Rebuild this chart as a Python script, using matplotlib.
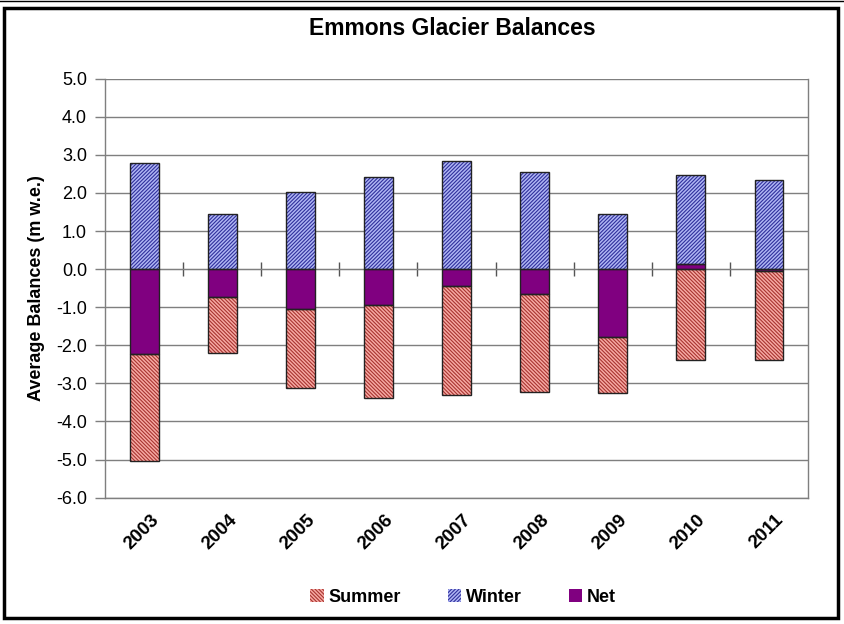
import matplotlib
matplotlib.use("Agg")
from matplotlib import pyplot as plt
from matplotlib.patches import Patch, Rectangle
from matplotlib.lines import Line2D
import matplotlib.transforms as mtrans
import numpy as np

# values (m w.e.), as drawn
years = ["2003", "2004", "2005", "2006", "2007", "2008", "2009", "2010", "2011"]
winter = [2.79, 1.45, 2.03, 2.42, 2.83, 2.55, 1.45, 2.34, 2.34]
net = [-2.22, -0.73, -1.06, -0.94, -0.44, -0.66, -1.79, 0.13, -0.04]
summer = [-2.82, -1.47, -2.07, -2.45, -2.87, -2.58, -1.47, -2.38, -2.34]

plt.rcParams["font.family"] = ["Liberation Sans", "DejaVu Sans"]
plt.rcParams["hatch.linewidth"] = 0.8

summer_face, summer_hatch = "#F7AAA4", "#A83430"
winter_face, winter_hatch = "#B0B6F4", "#30309C"
net_color = "#800080"
s_hatch = "\\" * 9
w_hatch = "/" * 9

fig = plt.figure(figsize=(8.45, 6.24), dpi=100)
ax = fig.add_axes([0.1243, 0.2026, 0.8320, 0.6712])

# category axis crossing at zero (set first: moving a spine resets its ticks)
ax.spines["top"].set_position(("data", 0))
ax.spines["top"].set_color("#7f7f7f")

x = np.arange(len(years))
w = 0.37
net = np.array(net)
winter_base = np.maximum(net, 0)
summer_base = np.minimum(net, 0)

# hatched layers first (edge = hatch colour), then black outlines on top
ax.bar(x, summer, w, bottom=summer_base, color=summer_face, hatch=s_hatch,
       edgecolor=summer_hatch, linewidth=0, zorder=3)
ax.bar(x, winter, w, bottom=winter_base, color=winter_face, hatch=w_hatch,
       edgecolor=winter_hatch, linewidth=0, zorder=3)
ax.bar(x, net, w, color=net_color, linewidth=0, zorder=4)
for vals, base in [(summer, summer_base), (winter, winter_base), (net, 0)]:
    ax.bar(x, vals, w, bottom=base, fill=False, edgecolor="#222222", linewidth=1.0, zorder=5)

ax.set_xlim(-0.5, len(years) - 0.5)
ax.set_ylim(-6, 5)
yt = np.arange(-6, 5.1, 1)
ax.set_yticks(yt)
ax.set_yticklabels([f"{v:.1f}" for v in yt], fontsize=13)
ax.yaxis.grid(True, color="#7f7f7f", linewidth=1.0, zorder=0)
ax.tick_params(axis="y", direction="out", length=7, color="#7f7f7f", width=1, pad=6)

# ticks between categories on the zero line
ax.xaxis.set_ticks(x[:-1] + 0.5, minor=True)
ax.tick_params(axis="x", which="minor", top=True, bottom=False, direction="inout",
               length=10, color="#555555", width=1)

ax.set_xticks(x)
ax.set_xticklabels(years, rotation=45, ha="right", va="top", rotation_mode="anchor",
                   fontsize=13.5, fontweight="bold")
ax.tick_params(axis="x", which="major", length=0, pad=10, top=False, bottom=True)
offset = mtrans.ScaledTranslation(6 / 100, 0, fig.dpi_scale_trans)
for lab in ax.get_xticklabels():
    lab.set_transform(lab.get_transform() + offset)

for s in ["left", "right", "bottom"]:
    ax.spines[s].set_color("#7f7f7f")
    ax.spines[s].set_linewidth(1.0)

ax.set_ylabel("Average Balances (m w.e.)", fontsize=13, fontweight="bold", labelpad=8)
fig.text(0.535, 0.955, "Emmons Glacier Balances", ha="center", va="center",
         fontsize=16.5, fontweight="bold")

handles = [
    Patch(facecolor=summer_face, edgecolor=summer_hatch, hatch=s_hatch, linewidth=0),
    Patch(facecolor=winter_face, edgecolor=winter_hatch, hatch=w_hatch, linewidth=0),
    Patch(facecolor=net_color, edgecolor=net_color, linewidth=0),
]
fig.legend(handles, ["Summer", "Winter", "Net"], loc="center", bbox_to_anchor=(0.548, 0.043),
           ncol=3, frameon=False, handlelength=0.75, handleheight=0.75, handletextpad=0.25,
           columnspacing=2.6, prop={"size": 13, "weight": "bold"})

# outer chart frame
fig.add_artist(Rectangle((4 / 845, 1 - 618 / 624), 834 / 845, 610 / 624, transform=fig.transFigure,
                         fill=False, edgecolor="black", linewidth=2.5))
fig.add_artist(Line2D([0, 1], [0.999, 0.999], transform=fig.transFigure, color="black", linewidth=1))

fig.savefig("out.png", dpi=100)
